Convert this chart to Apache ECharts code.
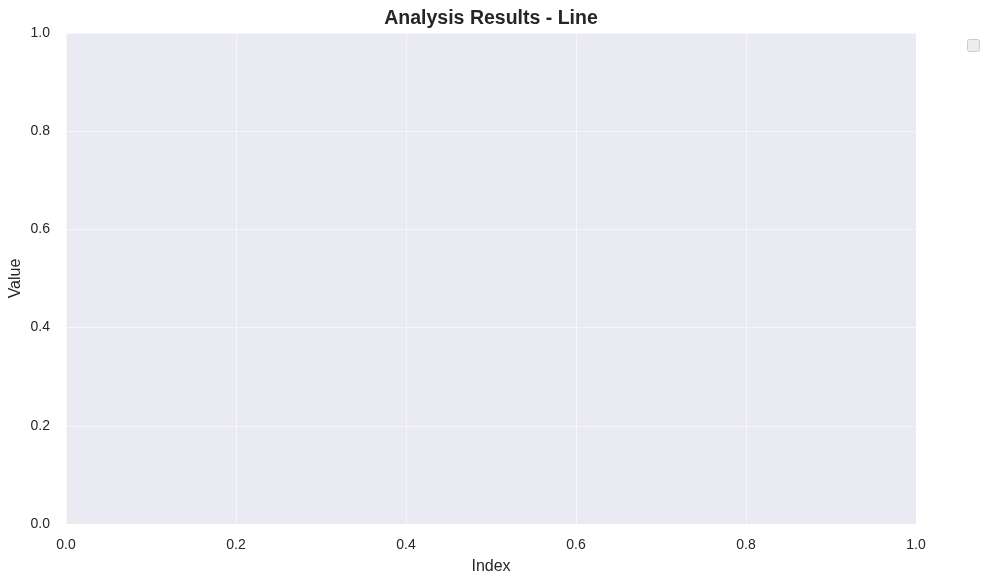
<!DOCTYPE html>
<html>
<head>
    <meta charset="UTF-8">
    <title>Analysis Results - Line</title>
    <script src="https://cdn.jsdelivr.net/npm/echarts@6/dist/echarts.min.js"></script>
    <style>
        html, body {
            margin: 0;
            padding: 0;
            background: #ffffff;
        }

        #chartContainer {
            width: 987px;
            height: 584px;
        }
    </style>
</head>
<body>
<div id="chartContainer"></div>
<script>
    // 数据：图里没有任何线，只有 0~1 的坐标轴
    var xTicks = [0.0, 0.2, 0.4, 0.6, 0.8, 1.0];
    var yTicks = [0.0, 0.2, 0.4, 0.6, 0.8, 1.0];
    var lineValues = [];

    var fontName = 'Liberation Sans, Arial, sans-serif';
    var textColor = '#262626';

    function tickLabel(v) {
        return Number(v).toFixed(1);
    }

    function drawLineChart() {
        var myChart = echarts.init(document.getElementById('chartContainer'));
        var option = {
            animation: false,
            backgroundColor: '#ffffff',
            textStyle: {
                fontFamily: fontName
            },
            title: {
                text: 'Analysis Results - Line',
                left: 486,
                top: 4,
                textAlign: 'center',
                textStyle: {
                    fontFamily: fontName,
                    fontSize: 19.5,
                    fontWeight: 'bold',
                    color: textColor
                }
            },
            grid: {
                left: 66,
                right: 71,
                top: 33,
                bottom: 60,
                containLabel: false,
                outerBoundsMode: 'none',
                show: true,
                backgroundColor: '#eaeaf2',
                borderWidth: 0
            },
            // 空图例框（右上角）
            graphic: [{
                type: 'rect',
                left: 967,
                top: 39,
                shape: {width: 12, height: 12, r: 2},
                style: {fill: '#eeeeef', stroke: '#cccccc', lineWidth: 1}
            }],
            xAxis: {
                type: 'value',
                min: xTicks[0],
                max: xTicks[xTicks.length - 1],
                interval: 0.2,
                name: 'Index',
                nameLocation: 'middle',
                nameGap: 35,
                nameMoveOverlap: false,
                nameTextStyle: {fontSize: 16, color: textColor, fontFamily: fontName},
                axisLine: {show: false},
                axisTick: {show: false},
                axisLabel: {
                    formatter: tickLabel,
                    fontSize: 14,
                    color: textColor,
                    margin: 14
                },
                splitLine: {show: true, lineStyle: {color: 'rgba(255,255,255,0.55)', width: 1}}
            },
            yAxis: {
                type: 'value',
                min: yTicks[0],
                max: yTicks[yTicks.length - 1],
                interval: 0.2,
                name: 'Value',
                nameLocation: 'middle',
                nameGap: 42,
                nameMoveOverlap: false,
                nameTextStyle: {fontSize: 16, color: textColor, fontFamily: fontName},
                axisLine: {show: false},
                axisTick: {show: false},
                axisLabel: {
                    formatter: tickLabel,
                    fontSize: 14,
                    color: textColor,
                    margin: 16
                },
                splitLine: {show: true, lineStyle: {color: 'rgba(255,255,255,0.55)', width: 1}}
            },
            series: [{
                type: 'line',
                data: lineValues
            }]
        };
        myChart.setOption(option);
    }

    window.onload = function () {
        drawLineChart();
    };
</script>
</body>
</html>
